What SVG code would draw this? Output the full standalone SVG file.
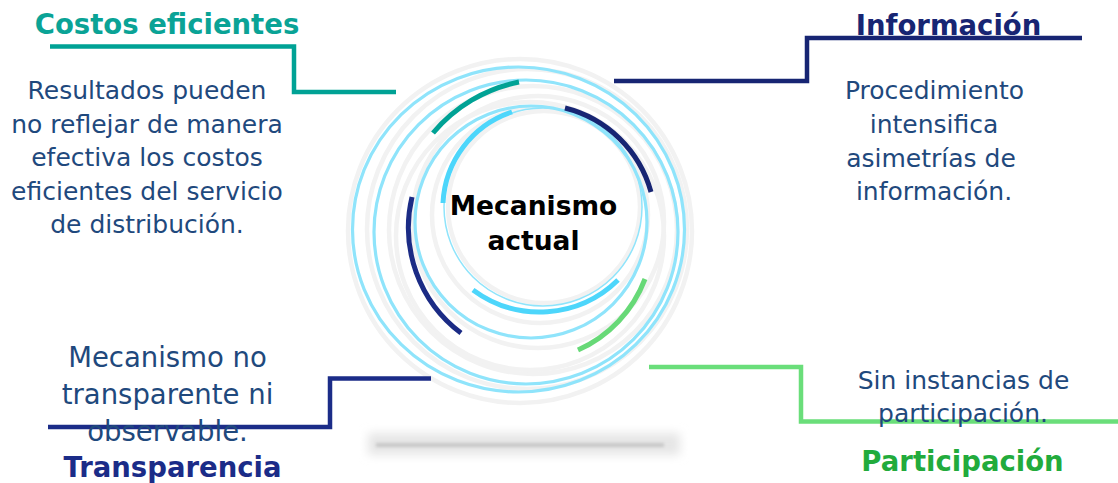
<svg xmlns="http://www.w3.org/2000/svg" width="1118" height="483" viewBox="0 0 1118 483">
<style>
text{font-family:"DejaVu Sans","Verdana",sans-serif;text-anchor:middle}
.body{font-size:25px;fill:#1f497d}
.body2{font-size:27.5px;fill:#1f497d}
.head{font-size:27.5px;font-weight:bold}
.lb{fill:none;stroke:#8fe4fb;stroke-width:3.2}
.lbt{fill:none;stroke:#8fe4fb;stroke-width:1.5}
.gr{fill:none;stroke:#f2f2f2;stroke-width:4.5}
.arc{fill:none;stroke-width:5;stroke-linecap:butt}
.conn{fill:none;stroke-width:4.5}
</style>
<defs>
<filter id="blur" x="-20%" y="-200%" width="140%" height="500%"><feGaussianBlur stdDeviation="5"/></filter>
<filter id="blur2" x="-20%" y="-200%" width="140%" height="500%"><feGaussianBlur stdDeviation="1.5"/></filter>
</defs>
<rect width="1118" height="483" fill="#ffffff"/>

<g id="shadow">
<rect x="368" y="433" width="312" height="22" fill="#e6e6e6" filter="url(#blur)"/>
<rect x="376" y="443" width="288" height="4" fill="#c8c8c8" filter="url(#blur2)"/>
</g>

<g id="hub">
<circle class="gr" cx="520" cy="231" r="172"/>
<circle class="gr" cx="527" cy="229" r="160"/>
<circle class="gr" cx="533" cy="230" r="144"/>
<circle class="gr" cx="530" cy="236" r="134"/>
<circle class="gr" cx="538" cy="222" r="126"/>
<circle class="gr" cx="540" cy="215" r="108"/>
<circle class="gr" cx="544" cy="207" r="96"/>
<ellipse class="lb" cx="518.5" cy="229.5" rx="166" ry="162.5"/>
<circle class="lb" cx="526" cy="232" r="152"/>
<circle class="lb" cx="531" cy="222" r="116"/>
<circle class="lbt" cx="543" cy="207" r="99"/>
<path class="arc" stroke="#4dd6fb" d="M443,203 A101,101 0 0 1 512,112"/>
<path class="arc" stroke="#4dd6fb" d="M473,290 A112,112 0 0 0 618,280"/>
<path class="arc" stroke="#00a295" stroke-width="5.5" d="M433,133 A150,150 0 0 1 519,82"/>
<path class="arc" stroke="#172573" d="M565,108 A119,119 0 0 1 651,192"/>
<path class="arc" stroke="#1b2b85" d="M412,197 A132,132 0 0 0 461,333"/>
<path class="arc" stroke="#67d977" d="M645,279 A127,127 0 0 1 578,350"/>
</g>

<g id="connectors">
<path class="conn" stroke="#00a295" d="M50,46.5 H294 V92 H396"/>
<path class="conn" stroke="#172573" d="M614,81 H807 V38 H1082"/>
<path class="conn" stroke="#1b2c88" d="M48,427 H330 V378.5 H431"/>
<path class="conn" stroke="#6ade7a" d="M649,367 H801 V421.5 H1118"/>
</g>

<g id="center">
<text x="533.5" y="215" style="font-size:26.5px;font-weight:bold;fill:#000">Mecanismo</text>
<text x="533.5" y="250" style="font-size:26.5px;font-weight:bold;fill:#000">actual</text>
</g>

<g id="costos">
<text class="head" x="167" y="34" fill="#0aa396">Costos eficientes</text>
<text class="body" x="147" y="99">Resultados pueden</text>
<text class="body" x="147" y="133">no reflejar de manera</text>
<text class="body" x="147" y="166">efectiva los costos</text>
<text class="body" x="147" y="200">eficientes del servicio</text>
<text class="body" x="147" y="233">de distribución.</text>
</g>

<g id="informacion">
<text class="head" x="948.5" y="35" fill="#172573">Información</text>
<text class="body" x="934.5" y="99">Procedimiento</text>
<text class="body" x="934" y="133">intensifica</text>
<text class="body" x="931" y="167">asimetrías de</text>
<text class="body" x="934" y="200">información.</text>
</g>

<g id="transparencia">
<text class="body2" x="167.5" y="367">Mecanismo no</text>
<text class="body2" x="167.5" y="404">transparente ni</text>
<text class="body2" x="167.5" y="441">observable.</text>
<text class="head" x="172.5" y="477" fill="#1b2c88">Transparencia</text>
</g>

<g id="participacion">
<text class="body" x="963.5" y="389">Sin instancias de</text>
<text class="body" x="963" y="422">participación.</text>
<text class="head" x="962.5" y="471" fill="#22ab3c">Participación</text>
</g>
</svg>
